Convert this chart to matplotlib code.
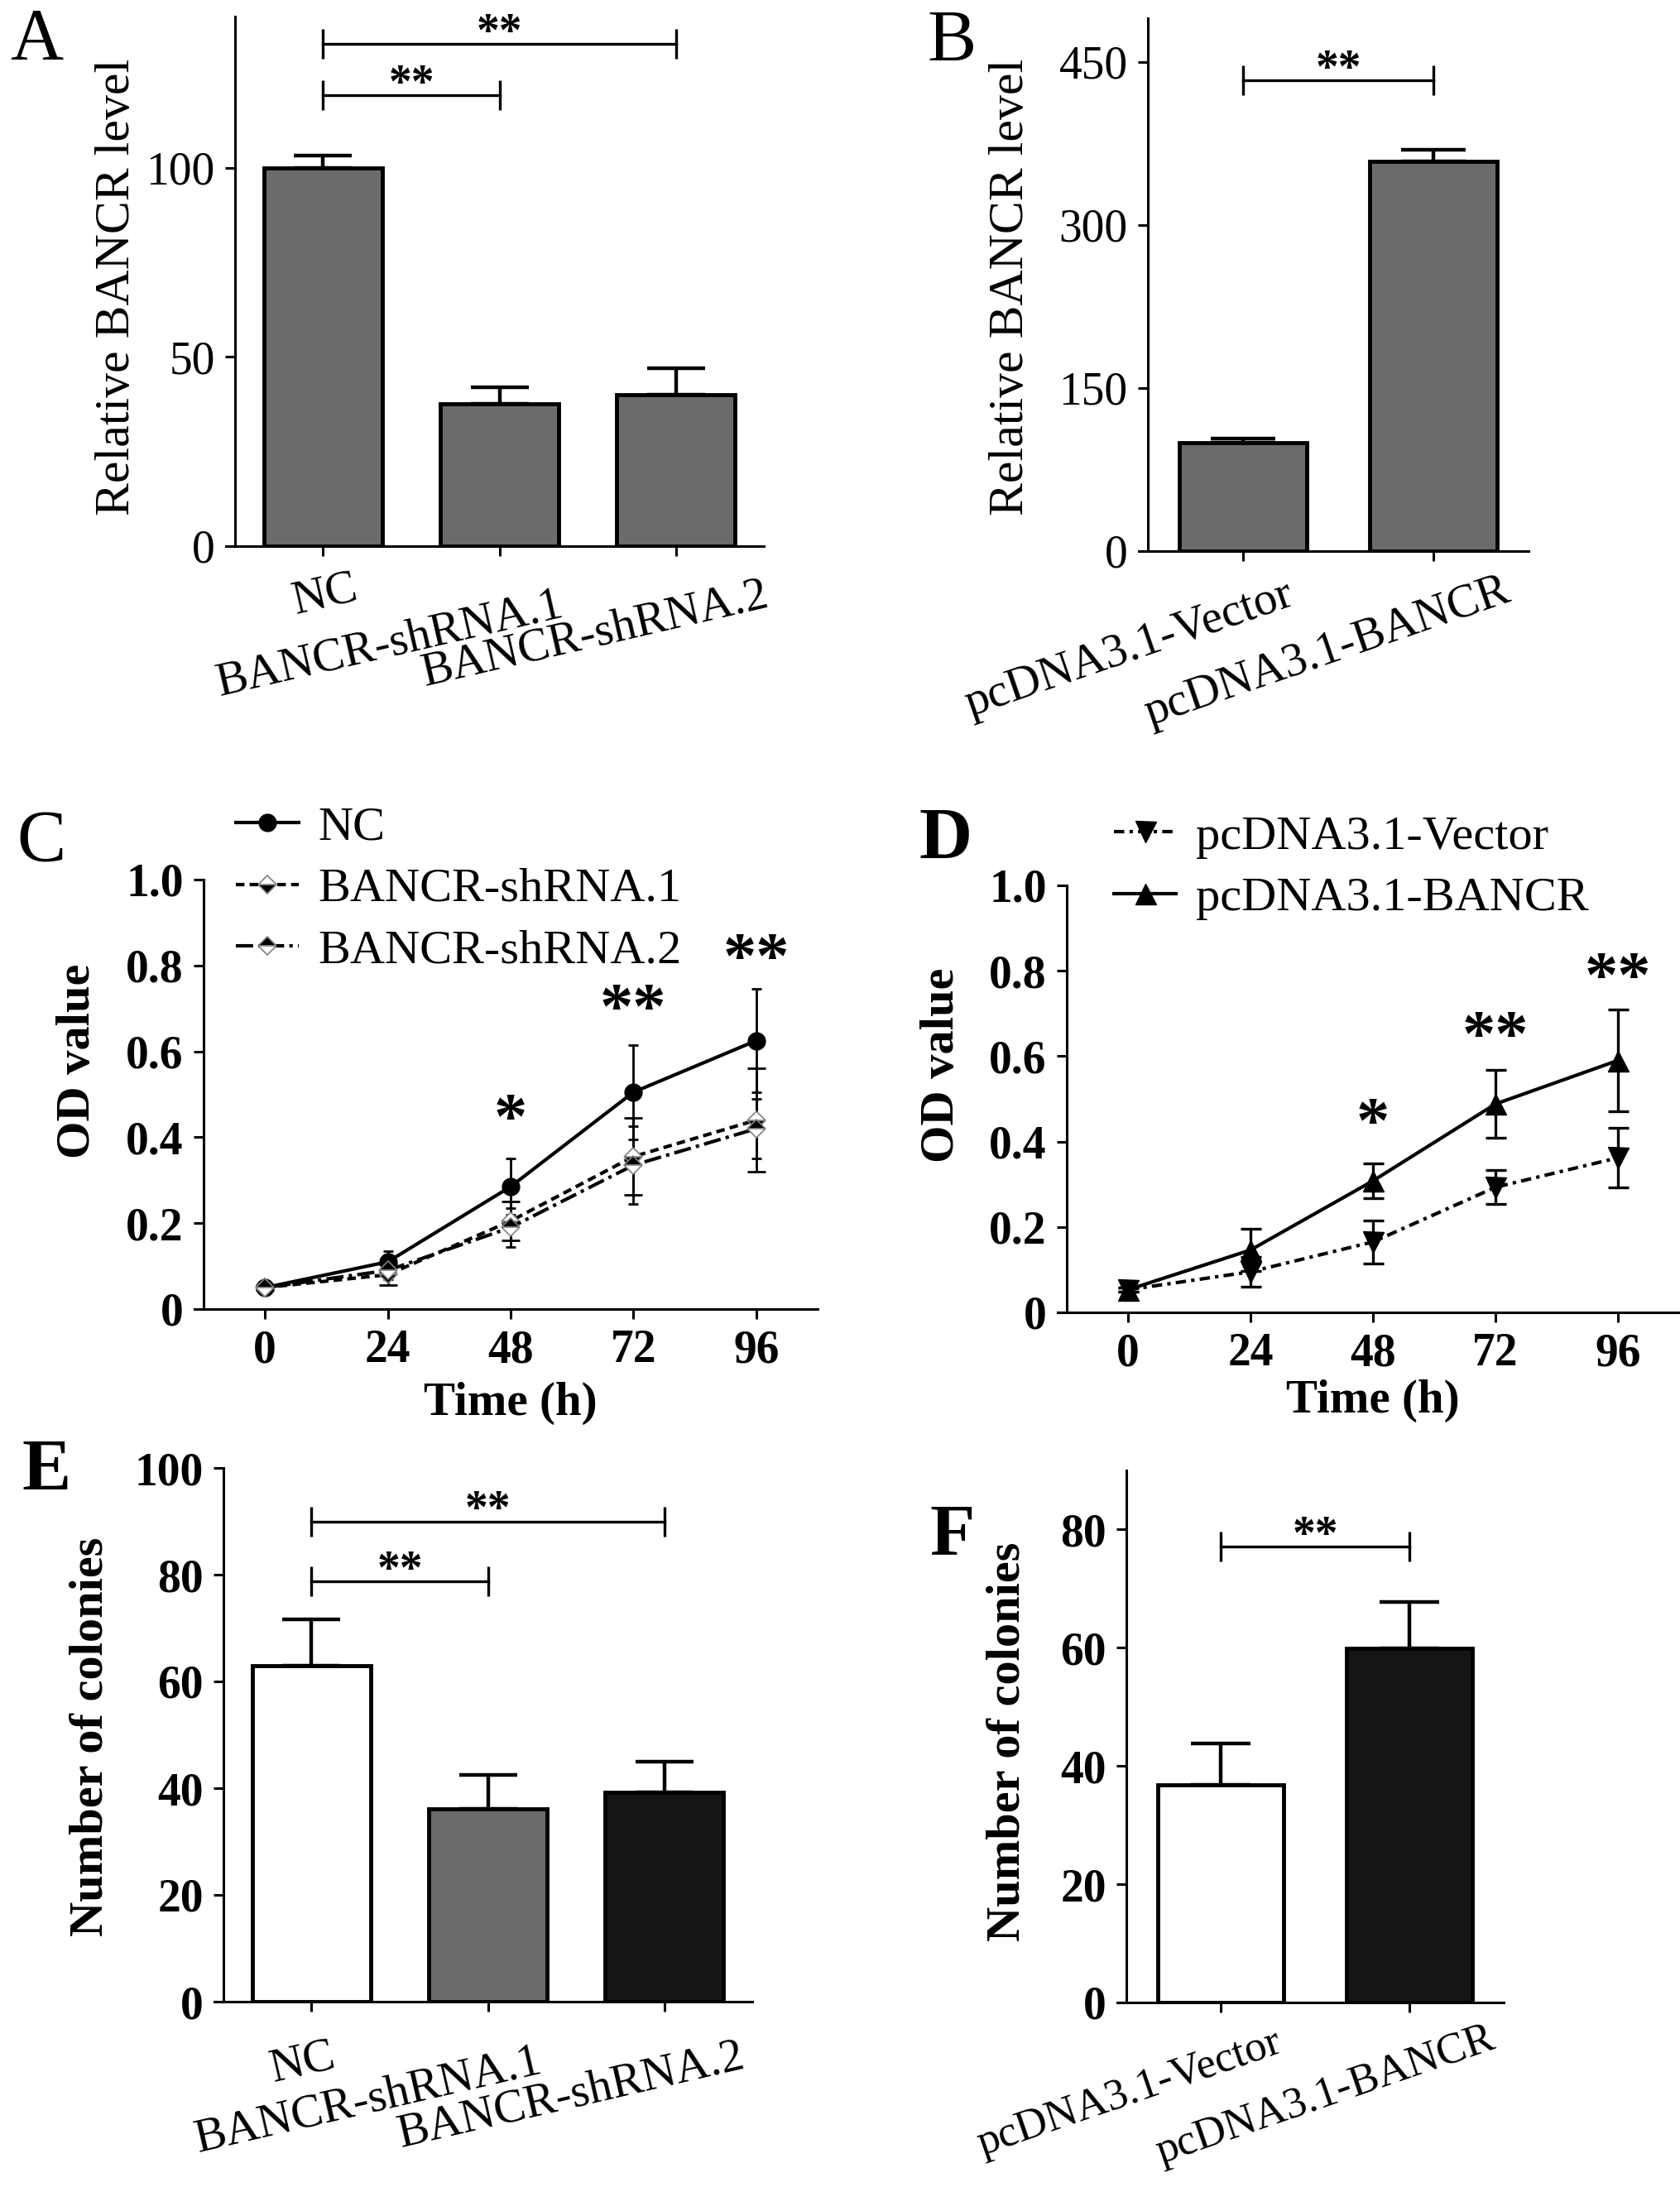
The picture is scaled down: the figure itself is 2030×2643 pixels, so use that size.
import numpy as np
import matplotlib
matplotlib.use("Agg")
import matplotlib.pyplot as plt
from matplotlib.transforms import blended_transform_factory, ScaledTranslation

plt.rcParams['font.family'] = ['Liberation Serif', 'DejaVu Serif']

# ---------------- data ----------------
# Panel A
a_cats = ['NC', 'BANCR-shRNA.1', 'BANCR-shRNA.2']
a_vals = [100.0, 37.7, 40.1]
a_errs = [3.3, 4.4, 7.0]
a_brackets = [(0, 2, 132.7), (0, 1, 119.3)]

# Panel B
b_cats = ['pcDNA3.1-Vector', 'pcDNA3.1-BANCR']
b_vals = [100.0, 358.0]
b_errs = [3.5, 11.0]
b_brackets = [(0, 1, 432.7)]

# Panel C
time_h = [0, 24, 48, 72, 96]
c_labels = ['NC', 'BANCR-shRNA.1', 'BANCR-shRNA.2']
c_nc = [0.05, 0.11, 0.285, 0.505, 0.625]
c_nc_err = [0.005, 0.025, 0.065, 0.11, 0.12]
c_sh1 = [0.05, 0.08, 0.205, 0.355, 0.44]
c_sh1_err = [0.005, 0.025, 0.045, 0.09, 0.12]
c_sh2 = [0.05, 0.09, 0.19, 0.335, 0.42]
c_sh2_err = [0.005, 0.02, 0.045, 0.09, 0.07]
c_stars = [(48, 0.434, '*'), (72, 0.69, '**'), (96, 0.808, '**')]

# Panel D
d_labels = ['pcDNA3.1-Vector', 'pcDNA3.1-BANCR']
d_vec = [0.053, 0.095, 0.165, 0.293, 0.362]
d_vec_err = [0.005, 0.035, 0.05, 0.04, 0.07]
d_ban = [0.053, 0.146, 0.308, 0.488, 0.59]
d_ban_err = [0.005, 0.05, 0.04, 0.08, 0.12]
d_stars = [(48, 0.436, '*'), (72, 0.639, '**'), (96, 0.777, '**')]

od_ticks = [0, 0.2, 0.4, 0.6, 0.8, 1.0]
od_ticklabels = ['0', '0.2', '0.4', '0.6', '0.8', '1.0']

# Panel E
e_cats = ['NC', 'BANCR-shRNA.1', 'BANCR-shRNA.2']
e_vals = [63.0, 36.1, 39.2]
e_errs = [8.6, 6.4, 5.7]
e_brackets = [(0, 2, 90.0), (0, 1, 78.7)]

# Panel F
f_cats = ['pcDNA3.1-Vector', 'pcDNA3.1-BANCR']
f_vals = [36.8, 59.9]
f_errs = [7.0, 7.9]
f_brackets = [(0, 1, 77.1)]

# ---------------- figure ----------------
W, H = 2031, 2643
fig = plt.figure(figsize=(W / 100, H / 100), dpi=100)

GRAY = '#6b6b6b'
DARK = '#151515'


def add_ax(l, t, r, b):
    return fig.add_axes([l / W, 1 - b / H, (r - l) / W, (b - t) / H])


def style_axes(ax, tick_fs, tick_bold, ext_px=11):
    for s in ['top', 'right']:
        ax.spines[s].set_visible(False)
    for s in ['left', 'bottom']:
        ax.spines[s].set_linewidth(2.2)
    ax.tick_params(direction='out', length=8.5, width=2.2, pad=9,
                   labelsize=tick_fs)
    for lab in ax.get_yticklabels() + ax.get_xticklabels():
        lab.set_fontweight('bold' if tick_bold else 'normal')
    # x axis line starts a little left of the y axis (Prism style)
    x0, x1 = ax.get_xlim()
    wpx = ax.get_position().width * W
    ext = ext_px / wpx * (x1 - x0)
    ax.spines['bottom'].set_bounds(x0 - ext, x1)


def bar_panel(ax, cats, vals, errs, colors, ylim, yticks, ylabel, ylabel_xy,
              brackets, label_offsets, rot, tick_bold, label_bold, capsize,
              tick_fs=40, label_fs=43, cat_fs=41):
    x = np.arange(len(cats))
    ax.errorbar(x, vals, yerr=[np.zeros(len(errs)), errs], fmt='none',
                ecolor='black', elinewidth=3.2, capsize=capsize, capthick=3.2,
                zorder=1)
    ax.bar(x, vals, width=0.67, color=colors, edgecolor='black',
           linewidth=3.5, zorder=2)
    ax.set_xlim(-0.5, len(cats) - 0.5)
    ax.set_ylim(*ylim)
    ax.set_yticks(yticks)
    ax.set_xticks(x)
    ax.set_xticklabels([])
    style_axes(ax, tick_fs, tick_bold)
    ax.set_ylabel(ylabel, fontsize=label_fs,
                  fontweight='bold' if label_bold else 'normal')
    ax.yaxis.set_label_coords(*ylabel_xy)
    for i, (cat, (dx, dy)) in enumerate(zip(cats, label_offsets)):
        tr = blended_transform_factory(ax.transData, ax.transAxes) + \
            ScaledTranslation(dx / 100, -dy / 100, fig.dpi_scale_trans)
        ax.text(i, 0, cat, transform=tr, rotation=rot, rotation_mode='anchor',
                ha='right', va='top', fontsize=cat_fs, clip_on=False)
    for (i, j, y) in brackets:
        ax.plot([i, j], [y, y], color='black', lw=2.4, marker='|',
                markersize=26, markeredgewidth=2.4, clip_on=False, zorder=3)
        ax.annotate('**', xy=((i + j) / 2, y), xytext=(0, -10),
                    textcoords='offset points', ha='center', va='bottom',
                    fontsize=40, fontweight='bold', annotation_clip=False)


def line_style_axes(ax, ylabel_xy, xlabel_xy):
    ax.set_xlim(-12, 108)
    ax.set_ylim(0, 1.0)
    ax.set_xticks(time_h)
    ax.set_yticks(od_ticks)
    ax.set_yticklabels(od_ticklabels)
    style_axes(ax, 40, True)
    ax.set_ylabel('OD value', fontsize=42, fontweight='bold')
    ax.yaxis.set_label_coords(*ylabel_xy)
    ax.set_xlabel('Time (h)', fontsize=41, fontweight='bold')
    ax.xaxis.set_label_coords(*xlabel_xy)


# ---- Panel A ----
axA = add_ax(284, 20, 923, 660)
bar_panel(axA, a_cats, a_vals, a_errs, [GRAY] * 3, (0, 140), [0, 50, 100],
          'Relative BANCR level', (-0.18, 0.49), a_brackets,
          [(35, 25), (70, 45), (105, 33)], 13, False, False, 25)

# ---- Panel B ----
axB = add_ax(1387, 22, 1847, 666)
bar_panel(axB, b_cats, b_vals, b_errs, [GRAY] * 2, (0, 490),
          [0, 150, 300, 450], 'Relative BANCR level', (-0.30, 0.495),
          b_brackets, [(50, 26), (82, 22)], 19, False, False, 28)

# ---- Panel C ----
axC = add_ax(246, 1063, 988, 1582)
series_c = [
    (c_nc, c_nc_err, dict(ls='-', marker='o', ms=15, mfc='black',
                          mec='black'), 4.5),
    (c_sh1, c_sh1_err, dict(ls=(0, (2.5, 1.5)), marker='D', ms=11,
                            mfc='black', markerfacecoloralt='white',
                            fillstyle='bottom', mec='#808080', mew=1.2), 8),
    (c_sh2, c_sh2_err, dict(ls=(0, (5, 1.5, 1, 1.5)), marker='D', ms=11,
                            mfc='black', markerfacecoloralt='white',
                            fillstyle='top', mec='#808080', mew=1.2), 4.5),
]
handles_c = []
for (m, e, kw, cs) in series_c:
    axC.errorbar(time_h, m, yerr=e, fmt='none', ecolor='black',
                 elinewidth=2.0, capsize=cs, capthick=2.0, zorder=2,
                 clip_on=False)
    ln, = axC.plot(time_h, m, color='black', lw=3, zorder=3, clip_on=False,
                   **kw)
    handles_c.append(ln)
line_style_axes(axC, (-0.17, 0.578), (0.5, -0.17))
for (tx, ty, s) in c_stars:
    axC.text(tx, ty, s, ha='center', va='center', fontsize=58,
             fontweight='bold')
axC.legend(handles_c, c_labels, loc='upper left', bbox_to_anchor=(0.053, 1.172),
           frameon=False, fontsize=42, handlelength=1.29, handletextpad=0.4,
           labelspacing=0.37, borderpad=0, borderaxespad=0)

# ---- Panel D ----
axD = add_ax(1289, 1070, 2029, 1586)
series_d = [
    (d_vec, d_vec_err, dict(ls=(0, (3, 1.5, 1, 1.5)), marker='v', ms=18)),
    (d_ban, d_ban_err, dict(ls='-', marker='^', ms=18)),
]
handles_d = []
for (m, e, kw) in series_d:
    axD.errorbar(time_h, m, yerr=e, fmt='none', ecolor='black',
                 elinewidth=2.4, capsize=9, capthick=2.4, zorder=2,
                 clip_on=False)
    ln, = axD.plot(time_h, m, color='black', lw=3, mfc='black', mec='black',
                   zorder=3, clip_on=False, **kw)
    handles_d.append(ln)
line_style_axes(axD, (-0.169, 0.578), (0.5, -0.157))
for (tx, ty, s) in d_stars:
    axD.text(tx, ty, s, ha='center', va='center', fontsize=58,
             fontweight='bold')
axD.legend(handles_d, d_labels, loc='upper left', bbox_to_anchor=(0.077, 1.165),
           frameon=False, fontsize=42, handlelength=1.29, handletextpad=0.4,
           labelspacing=0.37, borderpad=0, borderaxespad=0)

# ---- Panel E ----
axE = add_ax(270, 1774, 909, 2419)
bar_panel(axE, e_cats, e_vals, e_errs, ['white', GRAY, DARK], (0, 100),
          [0, 20, 40, 60, 80, 100], 'Number of colonies', (-0.211, 0.496),
          e_brackets, [(22, 40), (58, 46), (90, 40)], 13, True, True, 25,
          tick_fs=40, label_fs=42)

# ---- Panel F ----
axF = add_ax(1361, 1777, 1817, 2420)
bar_panel(axF, f_cats, f_vals, f_errs, ['white', DARK], (0, 90),
          [0, 20, 40, 60, 80], 'Number of colonies', (-0.257, 0.49),
          f_brackets, [(64, 24), (94, 20)], 19, True, True, 26,
          tick_fs=40, label_fs=42, cat_fs=38)

# ---- panel letters ----
letters = [('A', 12, 71, 'normal'), ('B', 1120, 73, 'normal'),
           ('C', 20, 1040, 'normal'), ('D', 1110, 1037, 'bold'),
           ('E', 26, 1800, 'bold'), ('F', 1123, 1878, 'bold')]
for (s, px, py, wt) in letters:
    fig.text(px / W, 1 - py / H, s, fontsize=64, fontweight=wt,
             ha='left', va='baseline')

fig.savefig('out.png', dpi=100)
